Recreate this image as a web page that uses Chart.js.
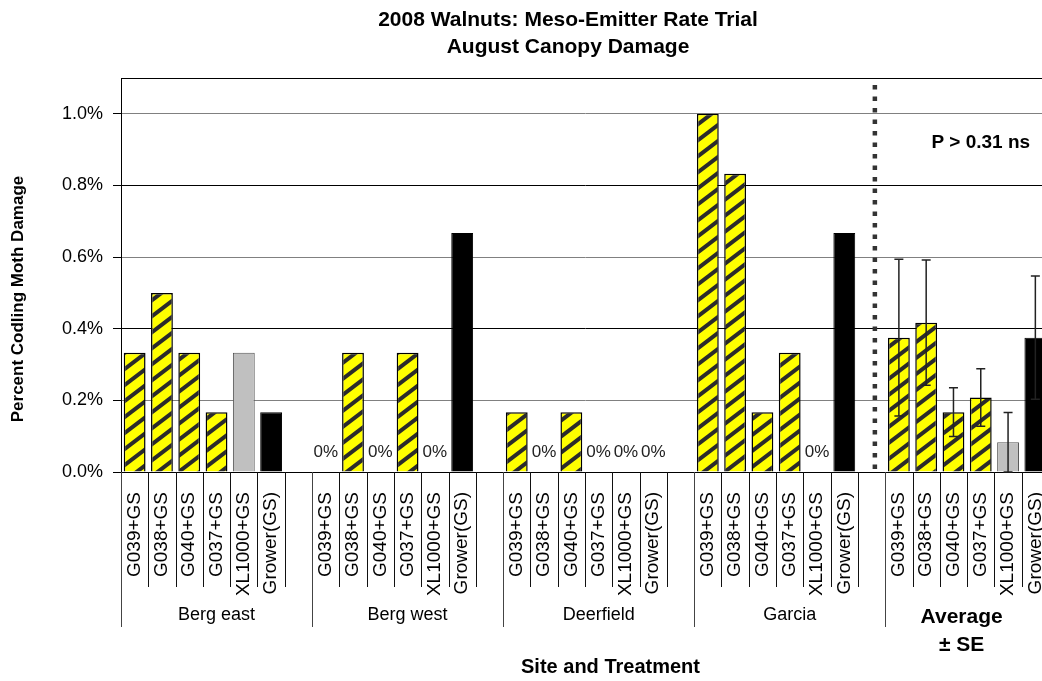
<!DOCTYPE html>
<html lang="en">
<head>
<meta charset="UTF-8">
<title>2008 Walnuts: Meso-Emitter Rate Trial</title>
<script src="https://cdn.jsdelivr.net/npm/chart.js@4"></script>
<style>
  html, body { margin: 0; padding: 0; background: #fff; overflow: hidden; }
  #wrap { width: 1042px; height: 681px; overflow: hidden; }
  canvas { display: block; }
</style>
</head>
<body>
<div id="wrap"><canvas id="grafico" width="1100" height="681"></canvas></div>
<script>
// Treatments, repeated for every site
const treatments = ['G039+GS', 'G038+GS', 'G040+GS', 'G037+GS', 'XL1000+GS', 'Grower(GS)'];
const sites = ['Berg east', 'Berg west', 'Deerfield', 'Garcia'];

// Percent codling moth damage per site (same order as treatments)
const bergEast = [0.333, 0.5, 0.333, 0.167, 0.333, 0.167];
const bergWest = [0, 0.333, 0, 0.333, 0, 0.667];
const deerfield = [0.167, 0, 0.167, 0, 0, 0];
const garcia = [1.0, 0.833, 0.167, 0.333, 0, 0.667];

// Average over the four sites and its standard error
const average = [0.375, 0.417, 0.167, 0.208, 0.083, 0.375];
const averageSE = [0.219, 0.175, 0.068, 0.080, 0.083, 0.172];

const yTicks = [0, 0.2, 0.4, 0.6, 0.8, 1.0];
const yMax = 1.1;
const pText = 'P > 0.31 ns';

// Build the flat category list: 6 bars + 1 empty slot per site, then the averages
const labels = [];
const values = [];
const groups = [];
[bergEast, bergWest, deerfield, garcia].forEach((serie, s) => {
    groups.push({ name: sites[s], start: labels.length });
    treatments.forEach((t, i) => { labels.push(t); values.push(serie[i]); });
    labels.push('');
    values.push(null);
});
const avgStart = labels.length;
treatments.forEach((t, i) => { labels.push(t); values.push(average[i]); });

// Yellow / black diagonal stripes
function stripePattern() {
    const w = 21, h = 16;
    const c = document.createElement('canvas');
    c.width = w; c.height = h;
    const g = c.getContext('2d');
    g.fillStyle = '#ffff00';
    g.fillRect(0, 0, w, h);
    g.strokeStyle = '#2b2b2b';
    g.lineWidth = 4;
    for (let k = -1; k <= 1; k++) {
        g.beginPath();
        g.moveTo(-w, 2 * h + k * h);
        g.lineTo(2 * w, -h + k * h);
        g.stroke();
    }
    return g.createPattern(c, 'repeat');
}
const stripes = stripePattern();

function kindOf(i) {
    const t = i % 7;
    if (t < 4) return 'stripe';
    if (t === 4) return 'xl';
    return 'grower';
}

const extras = {
    id: 'extras',
    afterDatasetsDraw(chart) {
        const ctx = chart.ctx;
        const xs = chart.scales.x;
        const ys = chart.scales.y;
        const area = chart.chartArea;
        const meta = chart.getDatasetMeta(0);
        ctx.save();

        // plot area top border
        ctx.strokeStyle = '#000';
        ctx.lineWidth = 1;
        ctx.beginPath();
        ctx.moveTo(area.left, area.top + 0.5);
        ctx.lineTo(area.right, area.top + 0.5);
        ctx.stroke();

        // category separators (long ones between sites)
        for (let k = 0; k < labels.length; k++) {
            const x = Math.round(xs.getPixelForValue(k - 0.5)) + 0.5;
            const long = k % 7 === 0;
            ctx.strokeStyle = long ? '#444' : '#111';
            ctx.beginPath();
            ctx.moveTo(x, area.bottom);
            ctx.lineTo(x, area.bottom + (long ? 155 : 115));
            ctx.stroke();
        }

        // dotted divider before the averages
        const xd = xs.getPixelForValue(27.12);
        ctx.strokeStyle = '#333';
        ctx.lineWidth = 4.5;
        ctx.setLineDash([4.5, 7]);
        ctx.beginPath();
        ctx.moveTo(xd, area.top + 7);
        ctx.lineTo(xd, area.bottom);
        ctx.stroke();
        ctx.setLineDash([]);

        // error bars on the averages
        ctx.strokeStyle = '#222';
        ctx.lineWidth = 1.5;
        average.forEach((v, i) => {
            const x = meta.data[avgStart + i].x;
            const top = ys.getPixelForValue(v + averageSE[i]);
            const bot = ys.getPixelForValue(Math.max(0, v - averageSE[i]));
            ctx.beginPath();
            ctx.moveTo(x, top); ctx.lineTo(x, bot);
            ctx.moveTo(x - 4.5, top); ctx.lineTo(x + 4.5, top);
            ctx.moveTo(x - 4.5, bot); ctx.lineTo(x + 4.5, bot);
            ctx.stroke();
        });

        // 0% labels
        ctx.fillStyle = '#222';
        ctx.font = '17px "Liberation Sans", Arial, sans-serif';
        ctx.textAlign = 'center';
        ctx.textBaseline = 'middle';
        values.forEach((v, i) => {
            if (v === 0) {
                const bar = meta.data[i];
                ctx.fillText('0%', bar.x, bar.y - 20);
            }
        });

        // site names
        ctx.fillStyle = '#000';
        ctx.font = '18px "Liberation Sans", Arial, sans-serif';
        groups.forEach(gr => {
            ctx.fillText(gr.name, xs.getPixelForValue(gr.start + 3), area.bottom + 143);
        });
        ctx.font = 'bold 21px "Liberation Sans", Arial, sans-serif';
        ctx.fillText('Average', xs.getPixelForValue(avgStart + 2.3), area.bottom + 145);
        ctx.fillText('\u00b1 SE', xs.getPixelForValue(avgStart + 2.3), area.bottom + 173);

        // significance note
        ctx.font = 'bold 19px "Liberation Sans", Arial, sans-serif';
        ctx.fillText(pText, xs.getPixelForValue(31), ys.getPixelForValue(0.92));

        // titles
        ctx.font = 'bold 21px "Liberation Sans", Arial, sans-serif';
        ctx.fillText('2008 Walnuts: Meso-Emitter Rate Trial', 568, 20);
        ctx.fillText('August Canopy Damage', 568, 47);

        ctx.font = 'bold 20px "Liberation Sans", Arial, sans-serif';
        ctx.fillText('Site and Treatment', (area.left + chart.width) / 2, area.bottom + 195);

        ctx.font = 'bold 17px "Liberation Sans", Arial, sans-serif';
        ctx.translate(18, 299);
        ctx.rotate(-Math.PI / 2);
        ctx.fillText('Percent Codling Moth Damage', 0, 0);

        ctx.restore();
    }
};

new Chart(document.getElementById('grafico'), {
    type: 'bar',
    data: {
        labels: labels,
        datasets: [{
            data: values,
            backgroundColor: c => {
                const k = kindOf(c.dataIndex);
                return k === 'stripe' ? stripes : (k === 'xl' ? '#c0c0c0' : '#000');
            },
            borderColor: c => kindOf(c.dataIndex) === 'xl' ? '#555' : '#000',
            borderWidth: c => kindOf(c.dataIndex) === 'stripe' ? 1.5 : 1,
            barPercentage: 0.8,
            categoryPercentage: 1.0
        }]
    },
    options: {
        responsive: false,
        devicePixelRatio: 1,
        animation: false,
        layout: { padding: { top: 78, right: 51, left: 0, bottom: 0 } },
        plugins: {
            legend: { display: false },
            tooltip: { enabled: false }
        },
        scales: {
            x: {
                grid: { display: false },
                border: { display: true, color: '#000', width: 1 },
                ticks: {
                    autoSkip: false,
                    minRotation: 90,
                    maxRotation: 90,
                    padding: 12,
                    color: '#000',
                    font: { family: '"Liberation Sans", Arial, sans-serif', size: 19 }
                },
                afterFit: scale => { scale.height = 209; }
            },
            y: {
                min: 0,
                max: yMax,
                afterBuildTicks: scale => { scale.ticks = yTicks.map(v => ({ value: v })); },
                grid: {
                    color: c => (c.tick && (Math.abs(c.tick.value - 0.4) < 1e-6 || Math.abs(c.tick.value - 0.8) < 1e-6)) ? '#000' : '#808080',
                    tickColor: '#000',
                    tickLength: 8,
                    lineWidth: 1
                },
                border: { display: true, color: '#000', width: 1 },
                ticks: {
                    padding: 10,
                    color: '#000',
                    font: { family: '"Liberation Sans", Arial, sans-serif', size: 18 },
                    callback: v => v.toFixed(1) + '%'
                },
                afterFit: scale => { scale.width = 121; }
            }
        }
    },
    plugins: [extras]
});
</script>
</body>
</html>
